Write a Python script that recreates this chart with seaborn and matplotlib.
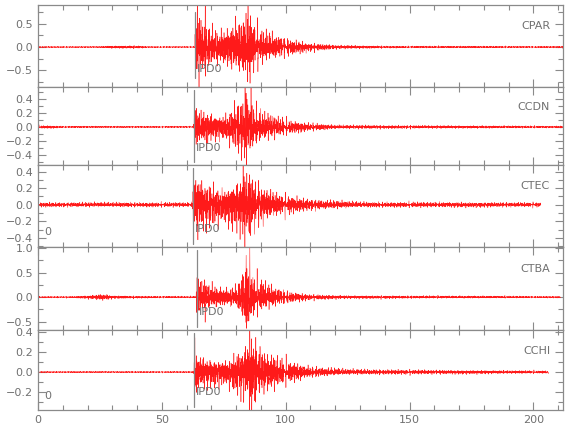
import numpy as np
import pandas as pd
import matplotlib
matplotlib.use("Agg")
import matplotlib.pyplot as plt
import seaborn as sns
from matplotlib.ticker import MultipleLocator, FixedLocator

# ---------------- data ----------------
stations = ["CPAR", "CCDN", "CTEC", "CTBA", "CCHI"]
p_pick = [63.5, 63.0, 62.5, 64.0, 63.0]          # IPD0 pick time (s)
t_end = [212.0, 212.0, 203.0, 211.0, 206.0]      # end of each trace (s)
ylims = [(-0.85, 0.90), (-0.54, 0.57), (-0.51, 0.48), (-0.67, 1.02), (-0.38, 0.42)]
major_step = [0.5, 0.2, 0.2, 0.5, 0.2]
minor_step = [0.25, 0.1, 0.1, 0.25, 0.1]
zero_label = [False, False, True, False, True]
xticks = [0, 50, 100, 150, 200]

# envelope (time, peak amplitude) of each seismogram
env_t_cpar = [0, 25, 30, 40, 45, 63.3, 63.5, 66, 70, 75, 80, 84, 88, 92, 100, 110, 120, 140, 200, 212]
env_a_cpar = [0.012, 0.012, 0.025, 0.025, 0.012, 0.012, 0.6, 0.5, 0.38, 0.32, 0.5, 0.6, 0.42, 0.3, 0.18, 0.08, 0.04, 0.02, 0.015, 0.015]
env_t_ccdn = [0, 5, 10, 62.8, 63.0, 66, 70, 75, 80, 83, 88, 92, 100, 110, 120, 212]
env_a_ccdn = [0.02, 0.02, 0.01, 0.01, 0.25, 0.2, 0.18, 0.15, 0.3, 0.4, 0.25, 0.18, 0.1, 0.05, 0.025, 0.012]
env_t_ctec = [0, 62.3, 62.5, 66, 70, 75, 80, 84, 88, 95, 105, 115, 130, 203]
env_a_ctec = [0.025, 0.025, 0.3, 0.28, 0.23, 0.18, 0.28, 0.36, 0.26, 0.14, 0.08, 0.05, 0.03, 0.025]
env_t_ctba = [0, 15, 22, 27, 30, 40, 63.8, 64.0, 68, 75, 80, 84, 88, 92, 100, 110, 125, 211]
env_a_ctba = [0.012, 0.015, 0.04, 0.06, 0.03, 0.02, 0.015, 0.32, 0.26, 0.16, 0.2, 0.55, 0.35, 0.25, 0.12, 0.05, 0.03, 0.015]
env_t_cchi = [0, 62.8, 63.0, 66, 70, 76, 80, 84, 88, 92, 100, 110, 125, 206]
env_a_cchi = [0.006, 0.006, 0.17, 0.15, 0.13, 0.11, 0.18, 0.27, 0.27, 0.18, 0.11, 0.05, 0.025, 0.012]

# individual large peaks (time, amplitude)
spk_t_cpar = [64.3, 65.0, 67.5, 84.8, 85.6, 83.0]
spk_a_cpar = [0.8, -0.85, 0.55, 0.85, -0.7, 0.6]
spk_t_ccdn = [63.2, 64.0, 68.0, 83.6, 84.2, 86.0]
spk_a_ccdn = [-0.45, 0.3, -0.3, 0.55, -0.5, 0.4]
spk_t_ctec = [62.7, 63.4, 64.5, 82.8, 83.5, 85.5]
spk_a_ctec = [-0.5, 0.4, -0.3, 0.45, -0.5, 0.38]
spk_t_ctba = [64.2, 65.0, 67.5, 84.0, 84.7, 85.5]
spk_a_ctba = [0.45, -0.3, -0.35, 1.0, -0.65, 0.6]
spk_t_cchi = [63.3, 64.0, 85.5, 86.3, 84.8, 87.5]
spk_a_cchi = [0.2, -0.2, 0.4, -0.35, 0.33, -0.3]

env_t = [env_t_cpar, env_t_ccdn, env_t_ctec, env_t_ctba, env_t_cchi]
env_a = [env_a_cpar, env_a_ccdn, env_a_ctec, env_a_ctba, env_a_cchi]
spk_t = [spk_t_cpar, spk_t_ccdn, spk_t_ctec, spk_t_ctba, spk_t_cchi]
spk_a = [spk_a_cpar, spk_a_ccdn, spk_a_ctec, spk_a_ctba, spk_a_cchi]

# ---------------- build traces ----------------
fs = 40.0
freqs = np.array([1.13, 1.71, 2.37, 2.93, 3.41, 4.07, 4.63, 5.29, 6.11, 7.03, 7.87, 8.69])


def trace(i):
    t = np.arange(0, t_end[i], 1 / fs)
    ph = (np.arange(len(freqs)) + 1) * 2.399963 * (i + 1)
    c = np.sum(np.sin(2 * np.pi * freqs[:, None] * t[None, :] + ph[:, None]), axis=0)
    c = c / (2.3 * np.sqrt(len(freqs) / 2))
    y = np.interp(t, env_t[i], env_a[i]) * c
    for ts, a in zip(spk_t[i], spk_a[i]):
        y += a * np.exp(-((t - ts) / 0.15) ** 2) * np.cos(2 * np.pi * 3 * (t - ts))
    return pd.DataFrame({"time": t, "amp": y})


# ---------------- figure ----------------
sns.set_theme(style="white")
plt.rcParams["font.family"] = ["DejaVu Sans"]
grey = "#8a8a8a"
txt = "#707070"

fig = plt.figure(figsize=(5.8, 4.4), dpi=100)
gs = fig.add_gridspec(5, 1, height_ratios=[82, 78, 82, 83, 80], hspace=0,
                      left=0.0655, right=0.971, top=0.989, bottom=0.068)
axes = [fig.add_subplot(gs[k]) for k in range(5)]

for i, ax in enumerate(axes):
    df = trace(i)
    sns.lineplot(data=df, x="time", y="amp", ax=ax, color="#ff1a1a", lw=0.35,
                 estimator=None, sort=False)
    ax.set_xlim(0, 212)
    ax.set_ylim(*ylims[i])
    ax.set_xlabel("")
    ax.set_ylabel("")
    lo, hi = ylims[i]
    m = major_step[i]
    maj = np.arange(np.ceil(lo / m) * m, hi + 1e-9, m)
    ax.yaxis.set_major_locator(FixedLocator(maj))
    ax.yaxis.set_minor_locator(MultipleLocator(minor_step[i]))
    ax.yaxis.set_major_formatter(matplotlib.ticker.FuncFormatter(
        lambda v, p: ("%.1f" % v).replace("-", "\u2212") if abs(v) > 1e-9 else "0.0"))
    ax.xaxis.set_major_locator(FixedLocator(xticks))
    ax.xaxis.set_minor_locator(MultipleLocator(10))
    ax.tick_params(axis="both", which="both", direction="in", colors=grey,
                   labelcolor=txt, labelsize=8, top=True, right=True, bottom=True, left=True,
                   width=0.8)
    ax.tick_params(which="major", length=6)
    ax.tick_params(which="minor", length=3.5)
    if i < 4:
        ax.tick_params(labelbottom=False)
    for s in ax.spines.values():
        s.set_color(grey)
        s.set_linewidth(0.9)
    ax.axvline(p_pick[i], ymin=0.11 if i == 0 else 0.04, ymax=0.91 if i == 0 else 0.96,
               color="#888888", lw=0.9)
    ax.text(p_pick[i] + 0.8, lo + 0.22 * (hi - lo), "IPD0", color=txt, fontsize=8,
            ha="left", va="center")
    ax.text(0.975, 0.74, stations[i], transform=ax.transAxes, color=txt, fontsize=8,
            ha="right", va="center")
    if zero_label[i]:
        ax.text(0.012, 0.18, "0", transform=ax.transAxes, color=txt, fontsize=8,
                ha="left", va="center")

fig.savefig("out.png", dpi=100)
